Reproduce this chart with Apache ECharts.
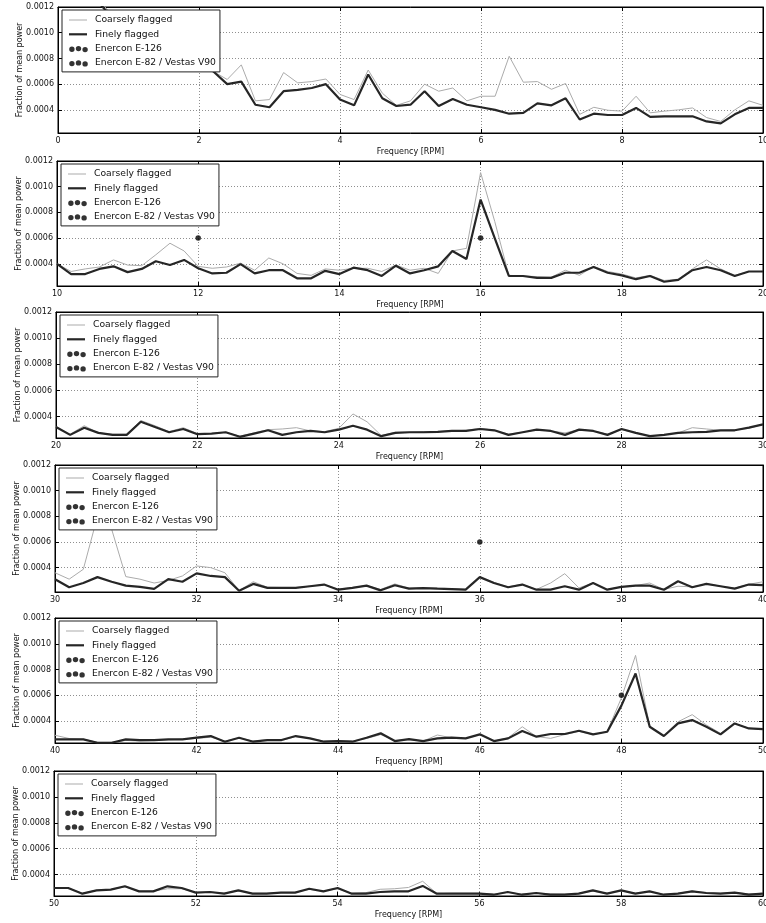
<!DOCTYPE html>
<html>
<head>
<meta charset="utf-8">
<script src="https://cdn.jsdelivr.net/npm/echarts@6/dist/echarts.min.js"></script>
<style>
  html, body { margin: 0; padding: 0; background: #fff; }
  #chart { width: 766px; height: 923px; }
</style>
</head>
<body>
<div id="chart"></div>
<script>
// Power spectrum split into six 10-RPM windows.
// Spectrum values are fractions of mean power, stored in units of 1e-4.
const FREQ_STEP = 0.2;               // spacing of the spectral bins [RPM]
const windowStarts = [0, 10, 20, 30, 40, 50];
const windowSpan = 10;

const fine00 = [20, 16, 13.5, 12.2, 11, 10.2, 9.6, 9.0, 8.6, 8.2,
  7.6, 7.0, 6.0, 6.2, 4.4, 4.2, 5.45, 5.55, 5.7, 6.0,
  4.8, 4.35, 6.75, 4.9, 4.3, 4.4, 5.45, 4.3, 4.85, 4.4,
  4.2, 4.0, 3.7, 3.77, 4.5, 4.35, 4.9, 3.25, 3.7, 3.6,
  3.6, 4.15, 3.45, 3.5, 3.5, 3.5, 3.1, 2.95, 3.65, 4.15, 4.15];
const coarse00 = [20, 16, 13.5, 12.4, 11.2, 10.4, 9.8, 9.2, 8.8, 8.4,
  8.0, 7.0, 6.36, 7.5, 4.7, 4.8, 6.9, 6.1, 6.2, 6.4,
  5.2, 4.8, 7.1, 5.3, 4.35, 4.7, 6.0, 5.45, 5.7, 4.7,
  5.06, 5.06, 8.17, 6.15, 6.2, 5.6, 6.05, 3.65, 4.2, 3.97,
  3.9, 5.06, 3.77, 3.9, 4.0, 4.15, 3.4, 3.1, 4.0, 4.7, 4.35];

const fine10 = [4.0, 3.2, 3.2, 3.6, 3.8, 3.35, 3.6, 4.2, 3.9, 4.3,
  3.65, 3.25, 3.3, 3.97, 3.25, 3.5, 3.5, 2.87, 2.87, 3.45,
  3.2, 3.7, 3.5, 3.05, 3.85, 3.25, 3.5, 3.8, 5.0, 4.37,
  9.0, 6.0, 3.05, 3.05, 2.9, 2.9, 3.3, 3.3, 3.75, 3.3,
  3.1, 2.8, 3.05, 2.6, 2.75, 3.5, 3.75, 3.5, 3.05, 3.4, 3.4];
const coarse10 = [4.0, 3.4, 3.6, 3.75, 4.3, 3.9, 3.85, 4.7, 5.6, 5.0,
  3.8, 3.65, 3.75, 4.05, 3.5, 4.45, 4.0, 3.25, 3.1, 3.6,
  3.5, 3.65, 3.65, 3.4, 3.9, 3.5, 3.65, 3.25, 5.0, 5.2,
  11.1, 7.3, 3.1, 3.05, 3.0, 2.95, 3.5, 3.1, 3.8, 3.4,
  3.2, 2.9, 3.1, 2.7, 2.8, 3.6, 4.3, 3.6, 3.1, 3.4, 3.4];

const fine20 = [3.2, 2.6, 3.15, 2.75, 2.6, 2.6, 3.6, 3.2, 2.8, 3.05,
  2.65, 2.7, 2.8, 2.45, 2.7, 2.95, 2.6, 2.8, 2.9, 2.8,
  3.0, 3.3, 3.0, 2.5, 2.75, 2.8, 2.8, 2.83, 2.9, 2.9,
  3.05, 2.95, 2.6, 2.8, 3.0, 2.9, 2.6, 3.0, 2.9, 2.6,
  3.05, 2.75, 2.5, 2.6, 2.75, 2.8, 2.83, 2.95, 2.95, 3.15, 3.4];
const coarse20 = [3.2, 2.65, 3.3, 2.75, 2.65, 2.65, 3.7, 3.3, 2.85, 3.15,
  2.7, 2.7, 2.8, 2.5, 2.75, 3.0, 3.05, 3.15, 2.9, 2.85,
  3.1, 4.2, 3.6, 2.55, 2.8, 2.8, 2.85, 2.85, 2.9, 2.95,
  3.1, 2.95, 2.65, 2.8, 3.0, 2.9, 2.75, 3.0, 2.9, 2.65,
  3.0, 2.75, 2.5, 2.6, 2.75, 3.15, 3.05, 2.95, 3.0, 3.1, 3.4];

const fine30 = [3.1, 2.47, 2.8, 3.26, 2.9, 2.6, 2.5, 2.34, 3.1, 2.9,
  3.55, 3.35, 3.26, 2.2, 2.73, 2.42, 2.42, 2.42, 2.55, 2.68,
  2.28, 2.42, 2.6, 2.23, 2.63, 2.36, 2.4, 2.36, 2.33, 2.28,
  3.26, 2.8, 2.47, 2.68, 2.28, 2.28, 2.55, 2.28, 2.8, 2.28,
  2.5, 2.6, 2.6, 2.28, 2.94, 2.47, 2.73, 2.55, 2.36, 2.68, 2.63];
const coarse30 = [3.6, 3.1, 3.87, 8.0, 7.0, 3.3, 3.1, 2.8, 3.0, 3.35,
  4.13, 4.0, 3.6, 2.2, 2.9, 2.47, 2.45, 2.45, 2.55, 2.68,
  2.32, 2.45, 2.6, 2.3, 2.73, 2.4, 2.42, 2.4, 2.36, 2.3,
  3.26, 2.85, 2.5, 2.7, 2.3, 2.8, 3.53, 2.42, 2.8, 2.3,
  2.5, 2.6, 2.8, 2.3, 2.55, 2.5, 2.73, 2.55, 2.4, 2.7, 2.9];

const fine40 = [2.58, 2.58, 2.58, 2.32, 2.32, 2.58, 2.53, 2.53, 2.58, 2.58,
  2.71, 2.84, 2.4, 2.71, 2.4, 2.53, 2.53, 2.84, 2.66, 2.4,
  2.45, 2.4, 2.71, 3.05, 2.45, 2.6, 2.45, 2.66, 2.71, 2.66,
  2.97, 2.45, 2.66, 3.23, 2.79, 3.0, 3.0, 3.25, 2.97, 3.17,
  5.2, 7.69, 3.56, 2.84, 3.82, 4.08, 3.56, 2.97, 3.82, 3.43, 3.38];
const coarse40 = [2.9, 2.65, 2.6, 2.35, 2.35, 2.5, 2.45, 2.5, 2.55, 2.6,
  2.65, 2.75, 2.45, 2.7, 2.45, 2.55, 2.5, 2.8, 2.66, 2.45,
  2.5, 2.45, 2.65, 2.95, 2.5, 2.55, 2.45, 2.92, 2.7, 2.66,
  2.95, 2.45, 2.7, 3.56, 2.8, 2.66, 2.95, 3.2, 2.95, 3.2,
  5.8, 9.1, 3.6, 2.84, 3.95, 4.5, 3.7, 3.05, 3.8, 3.45, 3.35];

const fine50 = [2.96, 2.96, 2.52, 2.78, 2.83, 3.09, 2.7, 2.7, 3.09, 2.96,
  2.6, 2.65, 2.52, 2.78, 2.52, 2.52, 2.6, 2.6, 2.9, 2.7,
  2.96, 2.52, 2.52, 2.65, 2.7, 2.7, 3.12, 2.52, 2.52, 2.52,
  2.52, 2.44, 2.65, 2.44, 2.57, 2.44, 2.44, 2.52, 2.78, 2.52,
  2.78, 2.52, 2.7, 2.44, 2.52, 2.7, 2.57, 2.52, 2.6, 2.44, 2.52];
const coarse50 = [2.96, 2.96, 2.55, 2.78, 2.83, 3.05, 2.72, 2.72, 2.9, 2.9,
  2.62, 2.65, 2.55, 2.75, 2.55, 2.55, 2.62, 2.62, 2.85, 2.72,
  2.9, 2.55, 2.6, 2.86, 2.9, 3.0, 3.48, 2.52, 2.55, 2.55,
  2.55, 2.48, 2.62, 2.48, 2.57, 2.5, 2.48, 2.55, 2.72, 2.55,
  2.75, 2.55, 2.68, 2.48, 2.55, 2.72, 2.6, 2.55, 2.62, 2.5, 2.55];

const fineSpectra = [fine00, fine10, fine20, fine30, fine40, fine50];
const coarseSpectra = [coarse00, coarse10, coarse20, coarse30, coarse40, coarse50];

// Rotor-speed markers [RPM, value in 1e-4]
const enerconE126 = [[12, 6.0], [36, 6.0]];
const enerconE82V90 = [[16, 6.0], [48, 6.0]];

// Axis ranges and ticks (value axis in 1e-4 units)
const yAxisMin = [2.2, 2.27, 2.36, 2.1, 2.3, 2.34];
const yAxisMax = 12;
const yTickStep = 2;
const xTickStep = 2;

// Panel layout
const panelLeft = [58, 57, 56, 55, 55, 54];
const panelTop = [7, 161, 312, 465, 618, 771];
const panelHeight = [126, 125, 126, 127, 125, 125];
const panelRight = 3;

const FONT = 'DejaVu Sans';
const COARSE_COLOR = '#ababab';
const FINE_COLOR = '#262626';
const GRID_LINE = { type: [1, 2], color: '#8f8f8f', width: 1 };

const ICON_THIN = 'path://M0,0M21,8M0,3.5H18V4.5H0Z';
const ICON_THICK = 'path://M0,0M21,8M0,2.9H18V5.1H0Z';
const ICON_DOTS = 'path://M0,0M21,8' +
  'M0.2,4.7a2.7,2.7 0 1,0 5.4,0a2.7,2.7 0 1,0 -5.4,0' +
  'M6.8,4.0a2.7,2.7 0 1,0 5.4,0a2.7,2.7 0 1,0 -5.4,0' +
  'M13.4,5.0a2.7,2.7 0 1,0 5.4,0a2.7,2.7 0 1,0 -5.4,0';

function toPoints(start, values) {
  return values.map((v, k) => [start + k * FREQ_STEP, v]);
}

const grids = [], xAxes = [], yAxes = [], series = [], legends = [];

windowStarts.forEach((start, i) => {
  grids.push({
    left: panelLeft[i], right: panelRight, top: panelTop[i], height: panelHeight[i],
    containLabel: false, outerBoundsMode: 'none',
    show: true, borderColor: '#000', borderWidth: 1, backgroundColor: '#fff'
  });

  const xBase = {
    type: 'value', gridIndex: i, min: start, max: start + windowSpan, interval: xTickStep,
    axisLine: { show: true, onZero: false, lineStyle: { color: '#000', width: 1 } },
    axisTick: { show: true, inside: true, length: 4, lineStyle: { color: '#000' } }
  };
  xAxes.push(Object.assign({}, xBase, {
    position: 'bottom',
    axisLabel: { show: true, margin: 4, fontSize: 8, fontFamily: FONT, color: '#111',
                 formatter: v => String(Math.round(v)) },
    splitLine: { show: true, lineStyle: GRID_LINE },
    name: 'Frequency [RPM]', nameLocation: 'middle', nameGap: 15, nameMoveOverlap: false,
    nameTextStyle: { fontSize: 8, fontFamily: FONT, color: '#111' }
  }));
  xAxes.push(Object.assign({}, xBase, {
    position: 'top', axisLabel: { show: false }, splitLine: { show: false }
  }));

  const yBase = {
    type: 'value', gridIndex: i, min: yAxisMin[i], max: yAxisMax,
    splitNumber: 5, minInterval: yTickStep, maxInterval: yTickStep,
    axisLine: { show: true, onZero: false, lineStyle: { color: '#000', width: 1 } },
    axisTick: { show: true, inside: true, length: 4, lineStyle: { color: '#000' } }
  };
  const onTick = v => Math.abs(v / yTickStep - Math.round(v / yTickStep)) < 1e-6;
  yAxes.push(Object.assign({}, yBase, {
    position: 'left',
    axisLabel: { show: true, margin: 4, fontSize: 8, fontFamily: FONT, color: '#111',
                 formatter: v => onTick(v) ? (v * 1e-4).toFixed(4) : '' },
    splitLine: { show: true, lineStyle: GRID_LINE },
    name: 'Fraction of mean power', nameLocation: 'middle', nameGap: 34, nameRotate: 90,
    nameMoveOverlap: false,
    nameTextStyle: { fontSize: 8, fontFamily: FONT, color: '#111' }
  }));
  yAxes.push(Object.assign({}, yBase, {
    position: 'right', axisLabel: { show: false }, splitLine: { show: false }
  }));

  const xi = 2 * i, yi = 2 * i;
  series.push({
    name: 'Coarsely flagged', type: 'line', xAxisIndex: xi, yAxisIndex: yi,
    data: toPoints(start, coarseSpectra[i]), symbol: 'none', clip: true, z: 2,
    lineStyle: { color: COARSE_COLOR, width: 1 }, itemStyle: { color: COARSE_COLOR }
  });
  series.push({
    name: 'Finely flagged', type: 'line', xAxisIndex: xi, yAxisIndex: yi,
    data: toPoints(start, fineSpectra[i]), symbol: 'none', clip: true, z: 3,
    lineStyle: { color: FINE_COLOR, width: 2.2 }, itemStyle: { color: FINE_COLOR }
  });
  series.push({
    name: 'Enercon E-126', type: 'scatter', xAxisIndex: xi, yAxisIndex: yi,
    data: enerconE126, symbol: 'circle', symbolSize: 5.5, clip: true, z: 4,
    itemStyle: { color: '#000' }
  });
  series.push({
    name: 'Enercon E-82 / Vestas V90', type: 'scatter', xAxisIndex: xi, yAxisIndex: yi,
    data: enerconE82V90, symbol: 'circle', symbolSize: 5.5, clip: true, z: 4,
    itemStyle: { color: '#000' }
  });

  legends.push({
    orient: 'vertical', left: panelLeft[i] + 4, top: panelTop[i] + 3,
    backgroundColor: '#fff', borderColor: '#222', borderWidth: 1, borderRadius: 0,
    padding: [4, 4, 3, 7], itemGap: 2.3, itemWidth: 21, itemHeight: 8,
    selectedMode: false, z: 10,
    textStyle: { fontSize: 9.2, fontFamily: FONT, color: '#111', lineHeight: 12 },
    data: [
      { name: 'Coarsely flagged', icon: ICON_THIN, itemStyle: { borderWidth: 0 } },
      { name: 'Finely flagged', icon: ICON_THICK, itemStyle: { borderWidth: 0 } },
      { name: 'Enercon E-126', icon: ICON_DOTS, itemStyle: { borderWidth: 0 } },
      { name: 'Enercon E-82 / Vestas V90', icon: ICON_DOTS, itemStyle: { borderWidth: 0 } }
    ]
  });
});

const chart = echarts.init(document.getElementById('chart'), null, { renderer: 'canvas' });
chart.setOption({
  animation: false,
  backgroundColor: '#fff',
  textStyle: { fontFamily: FONT },
  grid: grids,
  xAxis: xAxes,
  yAxis: yAxes,
  legend: legends,
  series: series
});
</script>
</body>
</html>
